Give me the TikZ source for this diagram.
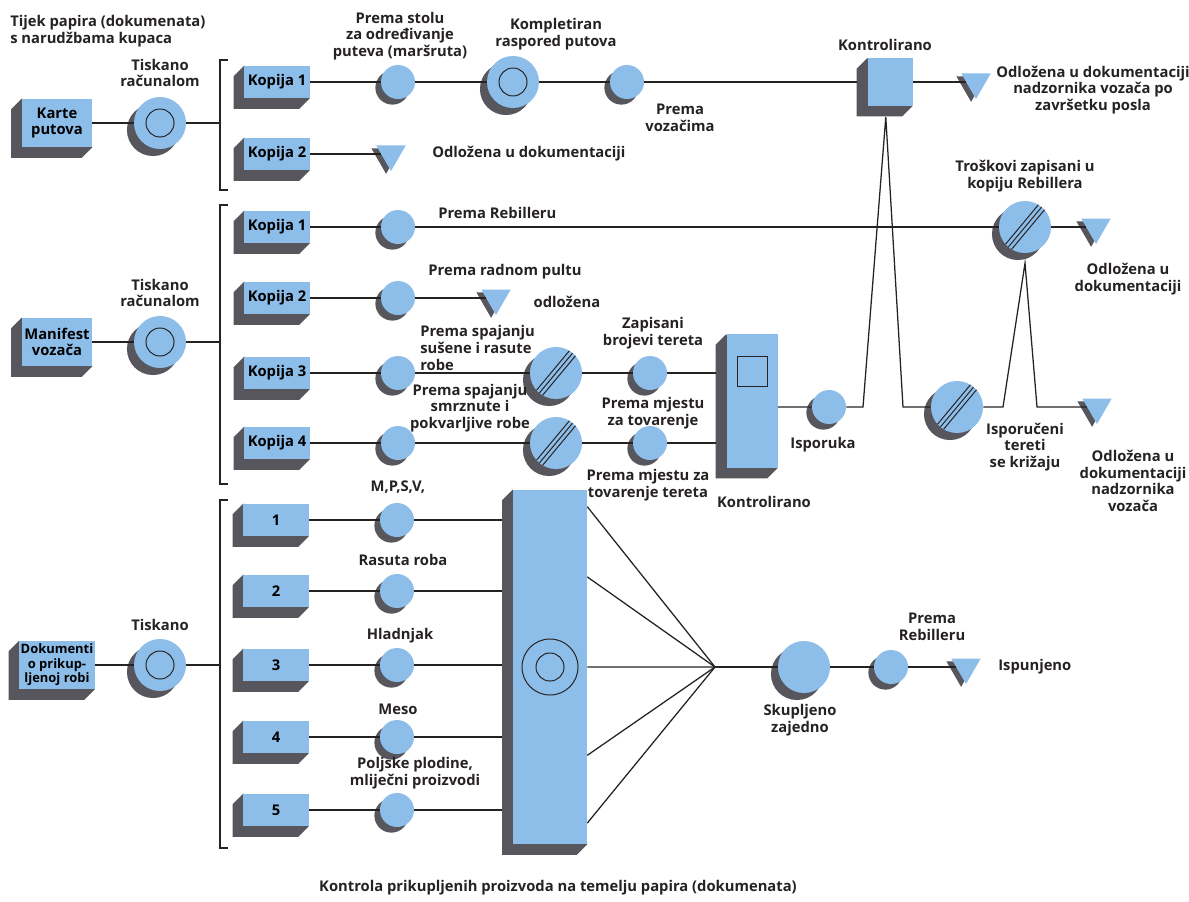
\documentclass[tikz,border=0pt]{standalone}
\usepackage{fontspec}
\setmainfont{Open Sans}
\usetikzlibrary{positioning}
\usetikzlibrary{calc}
\usetikzlibrary{shapes.geometric}
\usetikzlibrary{shadows}
\usetikzlibrary{backgrounds}
\definecolor{docblue}{RGB}{141,190,234}
\definecolor{docgray}{RGB}{86,86,92}
\definecolor{wirec}{RGB}{38,34,34}
\newcommand{\extr}{7.5pt}
\tikzset{%
  wire/.style = {draw=wirec, line width=0.9pt},
  lbl/.style = {align=center, text=wirec, inner sep=0pt},
  grayshift/.style = {drop shadow={shadow xshift=-#1, shadow yshift=-#1,
        fill=docgray, opacity=1, path picture={}}},
  doc/.style = {rectangle, fill=docblue, minimum width=1.625cm,
        minimum height=0.8cm, inner sep=1pt, align=center},
  bigdoc/.style = {doc, minimum width=1.75cm, minimum height=1.2cm},
  ctrl/.style = {rectangle, fill=docblue, inner sep=0pt},
  proc/.style = {circle, fill=docblue, minimum size=0.85cm, inner sep=0pt,
        grayshift=4pt},
  bigproc/.style = {circle, fill=docblue, minimum size=1.3cm, inner sep=0pt,
        grayshift=5pt},
  ringed/.style = {path picture={\draw[wirec, line width=0.7pt]
        (path picture bounding box.center) circle (0.35cm);}},
  striped/.style = {path picture={\foreach \o in {-2pt,0pt,2pt}
        \draw[wirec, line width=0.7pt]
        ($(path picture bounding box.center)+(\o,-\o)+(-1cm,-1.2cm)$)
        -- ++(2cm,2.4cm);}},
  file/.style = {regular polygon, regular polygon sides=3,
        shape border rotate=180, fill=docblue, minimum size=0.85cm,
        inner sep=0pt, drop shadow={shadow xshift=-3.5pt,
        shadow yshift=-2pt, fill=docgray, opacity=1}}
}

\begin{document}
\begin{tikzpicture}[x=0.025cm, y=-0.025cm,
        font=\bfseries\fontsize{10.5}{11.8}\selectfont]
    \useasboundingbox (0,0) rectangle (1189,901);

    % tijek karata putova
    \node[lbl, align=left, anchor=west] (title) at (10,31)
        {Tijek papira (dokumenata)\\s narudžbama kupaca};
    \node[bigdoc] (karte) at (57,123) {Karte\\putova};
    \node[bigproc, ringed] (tisk1) at (160,123) {};
    \node[lbl] (ltisk1) at (160,73) {Tiskano\\računalom};
    \coordinate (br1t) at (220,60);
    \coordinate (br1b) at (220,190);
    \coordinate (br1) at (220,123);
    \node[doc] (kop11) at (277,82) {Kopija 1};
    \node[doc] (kop12) at (277,154) {Kopija 2};
    \node[proc] (c11) at (398,82) {};
    \node[lbl] (lc11) at (400,36) {Prema stolu\\za određivanje\\puteva (maršruta)};
    \node[bigproc, ringed] (c12) at (513,82) {};
    \node[lbl] (lc12) at (556,34) {Kompletiran\\raspored putova};
    \node[proc] (c13) at (627,82) {};
    \node[lbl] (lc13) at (680,118) {Prema\\vozačima};
    \node[ctrl, minimum width=1.125cm, minimum height=1.175cm] (kontr1) at (890,82) {};
    \node[lbl] (lkontr1) at (885,45) {Kontrolirano};
    \node[file] (f11) at (976,82) {};
    \node[lbl] (lf11) at (1093,90)
        {Odložena u dokumentaciji\\nadzornika vozača po\\završetku posla};
    \node[file] (f12) at (391,154) {};
    \node[lbl, anchor=west] (lf12) at (432,154) {Odložena u dokumentaciji};

    \draw[wire] (karte) -- (tisk1) -- (br1);
    \draw[wire] (br1t) ++(8,0) -- (br1t) -- (br1b) -- ++(8,0);
    \draw[wire] (kop11) -- (c11) -- (c12) -- (c13) -- ([xshift=-\extr]kontr1.west);
    \draw[wire] (kontr1) -- (f11);
    \draw[wire] (kop12) -- (f12);

    % manifest vozaca
    \node[bigdoc] (manifest) at (57,342) {Manifest\\vozača};
    \node[bigproc, ringed] (tisk2) at (160,342) {};
    \node[lbl] (ltisk2) at (160,293) {Tiskano\\računalom};
    \coordinate (br2t) at (220,205);
    \coordinate (br2b) at (220,484);
    \coordinate (br2) at (220,342);
    \node[doc] (kop21) at (277,227) {Kopija 1};
    \node[doc] (kop22) at (277,298) {Kopija 2};
    \node[doc] (kop23) at (277,373) {Kopija 3};
    \node[doc] (kop24) at (277,443) {Kopija 4};
    \node[proc] (c21) at (398,227) {};
    \node[proc] (c22) at (398,298) {};
    \node[proc] (c23) at (398,373) {};
    \node[proc] (c24) at (398,443) {};
    \node[lbl, anchor=west] (lc21) at (438,213) {Prema Rebilleru};
    \node[bigproc, striped] (s1) at (1025,227) {};
    \node[lbl] (ls1) at (1025,176) {Troškovi zapisani u\\kopiju Rebillera};
    \node[file] (f21) at (1096,227) {};
    \node[lbl] (lf21) at (1128,279) {Odložena u\\dokumentaciji};
    \node[file] (f22) at (496,298) {};
    \node[lbl] (lc22) at (505,272) {Prema radnom pultu};
    \node[lbl] (lf22) at (567,302) {odložena};
    \node[bigproc, striped] (s2) at (556,373) {};
    \node[lbl, align=left, anchor=west] (ls2) at (420,348)
        {Prema spajanju\\sušene i rasute\\robe};
    \node[proc] (c31) at (650,373) {};
    \node[lbl] (lc31) at (653,333) {Zapisani\\brojevi tereta};
    \node[bigproc, striped] (s3) at (556,443) {};
    \node[lbl] (ls3) at (470,408) {Prema spajanju\\smrznute i\\pokvarljive robe};
    \node[proc] (c41) at (650,443) {};
    \node[lbl] (lc41) at (653,413) {Prema mjestu\\za tovarenje};
    \node[lbl] (lc42) at (648,485) {Prema mjestu za\\tovarenje tereta};
    \node[ctrl, minimum width=1.275cm, minimum height=3.325cm,
        path picture={\draw[wirec, line width=0.7pt]
        ($(path picture bounding box.center)+(-0.375cm,0.36cm)$)
        rectangle ++(0.75cm,0.75cm);}] (bar1) at (752,401) {};
    \coordinate (bar1l) at ([xshift=-\extr]bar1.west);
    \node[lbl] (lbar1) at (764,502) {Kontrolirano};
    \node[proc] (iso) at (829,407) {};
    \node[lbl] (liso) at (823,445) {Isporuka};
    \node[bigproc, striped] (s4) at (957,407) {};
    \node[lbl] (ls4) at (1025,447) {Isporučeni\\tereti\\se križaju};
    \node[file] (f23) at (1097,407) {};
    \node[lbl] (lf23) at (1133,481) {Odložena u\\dokumentaciji\\nadzornika\\vozača};
    \coordinate (k1) at (863,407);
    \coordinate (k2) at ([shift={(-3pt,-8pt)}]kontr1.south);
    \coordinate (k3) at (903,407);
    \coordinate (k4) at (1003,407);
    \coordinate (k5) at ([yshift=-7pt]s1.south);
    \coordinate (k6) at (1037,407);

    \draw[wire] (manifest) -- (tisk2) -- (br2);
    \draw[wire] (br2t) ++(8,0) -- (br2t) -- (br2b) -- ++(8,0);
    \draw[wire] (kop21) -- (c21) -- (s1) -- (f21);
    \draw[wire] (kop22) -- (c22) -- (f22);
    \draw[wire] (kop23) -- (c23) -- (s2) -- (c31) -- (c31 -| bar1l);
    \draw[wire] (kop24) -- (c24) -- (s3) -- (c41) -- (c41 -| bar1l);
    \draw[wire] (iso -| bar1.east) -- (iso) -- (k1) -- (k2) -- (k3) -- (s4)
        -- (k4) -- (k5) -- (k6) -- (f23);

    % prikupljena roba
    \node[bigdoc, font=\bfseries\fontsize{9.2}{10.3}\selectfont] (dok) at (57,665)
        {Dokumenti\\o prikup-\\ljenoj robi};
    \node[bigproc, ringed] (tisk3) at (160,665) {};
    \node[lbl] (ltisk3) at (160,625) {Tiskano};
    \coordinate (br3t) at (220,500);
    \coordinate (br3b) at (220,848);
    \coordinate (br3) at (220,665);
    \node[doc] (b1) at (276,520) {1};
    \node[doc] (b2) at (276,591) {2};
    \node[doc] (b3) at (276,665) {3};
    \node[doc] (b4) at (276,737) {4};
    \node[doc] (b5) at (276,810) {5};
    \node[proc] (p1) at (397,520) {};
    \node[proc] (p2) at (397,591) {};
    \node[proc] (p3) at (397,665) {};
    \node[proc] (p4) at (397,737) {};
    \node[proc] (p5) at (397,810) {};
    \node[lbl] (lp1) at (398,487) {M,P,S,V,};
    \node[lbl] (lp2) at (403,560) {Rasuta roba};
    \node[lbl] (lp3) at (400,636) {Hladnjak};
    \node[lbl] (lp4) at (398,709) {Meso};
    \node[lbl] (lp5) at (415,773) {Poljske plodine,\\mliječni proizvodi};
    \node[ctrl, minimum width=1.85cm, minimum height=8.85cm,
        path picture={\draw[wirec, line width=0.7pt]
        (path picture bounding box.center) circle (0.7cm)
        (path picture bounding box.center) circle (0.35cm);}] (bar2) at (550,667) {};
    \coordinate (bar2l) at ([xshift=-\extr]bar2.west);
    \coordinate (fan) at (715,667);
    \node[bigproc] (sk) at (804,667) {};
    \node[lbl] (lsk) at (800,720) {Skupljeno\\zajedno};
    \node[proc] (pr) at (891,667) {};
    \node[lbl] (lpr) at (932,627) {Prema\\Rebilleru};
    \node[file] (f31) at (966,667) {};
    \node[lbl, anchor=west] (lf31) at (998,667) {Ispunjeno};
    \node[lbl] (caption) at (558,888)
        {Kontrola prikupljenih proizvoda na temelju papira (dokumenata)};

    \draw[wire] (dok) -- (tisk3) -- (br3);
    \draw[wire] (br3t) ++(8,0) -- (br3t) -- (br3b) -- ++(8,0);
    \draw[wire] (b1) -- (p1) -- (p1 -| bar2l);
    \draw[wire] (b2) -- (p2) -- (p2 -| bar2l);
    \draw[wire] (b3) -- (p3) -- (p3 -| bar2l);
    \draw[wire] (b4) -- (p4) -- (p4 -| bar2l);
    \draw[wire] (b5) -- (p5) -- (p5 -| bar2l);
    \foreach \f in {0.048,0.246,0.5,0.749,0.94}
        \draw[wire] ($(bar2.north east)!\f!(bar2.south east)$) -- (fan);
    \draw[wire] (fan) -- (sk) -- (pr) -- (f31);

    % boje pozadine i sjene kutija
    \begin{scope}[on background layer]
        \fill[white] (0,0) rectangle (1189,901);
        \foreach \n in {karte,kop11,kop12,kontr1,manifest,kop21,kop22,kop23,
                kop24,bar1,dok,b1,b2,b3,b4,b5,bar2}
            \fill[docgray] (\n.north west) -- ++(-\extr,-\extr)
                -- ([shift={(-\extr,-\extr)}]\n.south west)
                -- ([shift={(-\extr,-\extr)}]\n.south east)
                -- (\n.south east) -- cycle;
    \end{scope}
\end{tikzpicture}
\end{document}
